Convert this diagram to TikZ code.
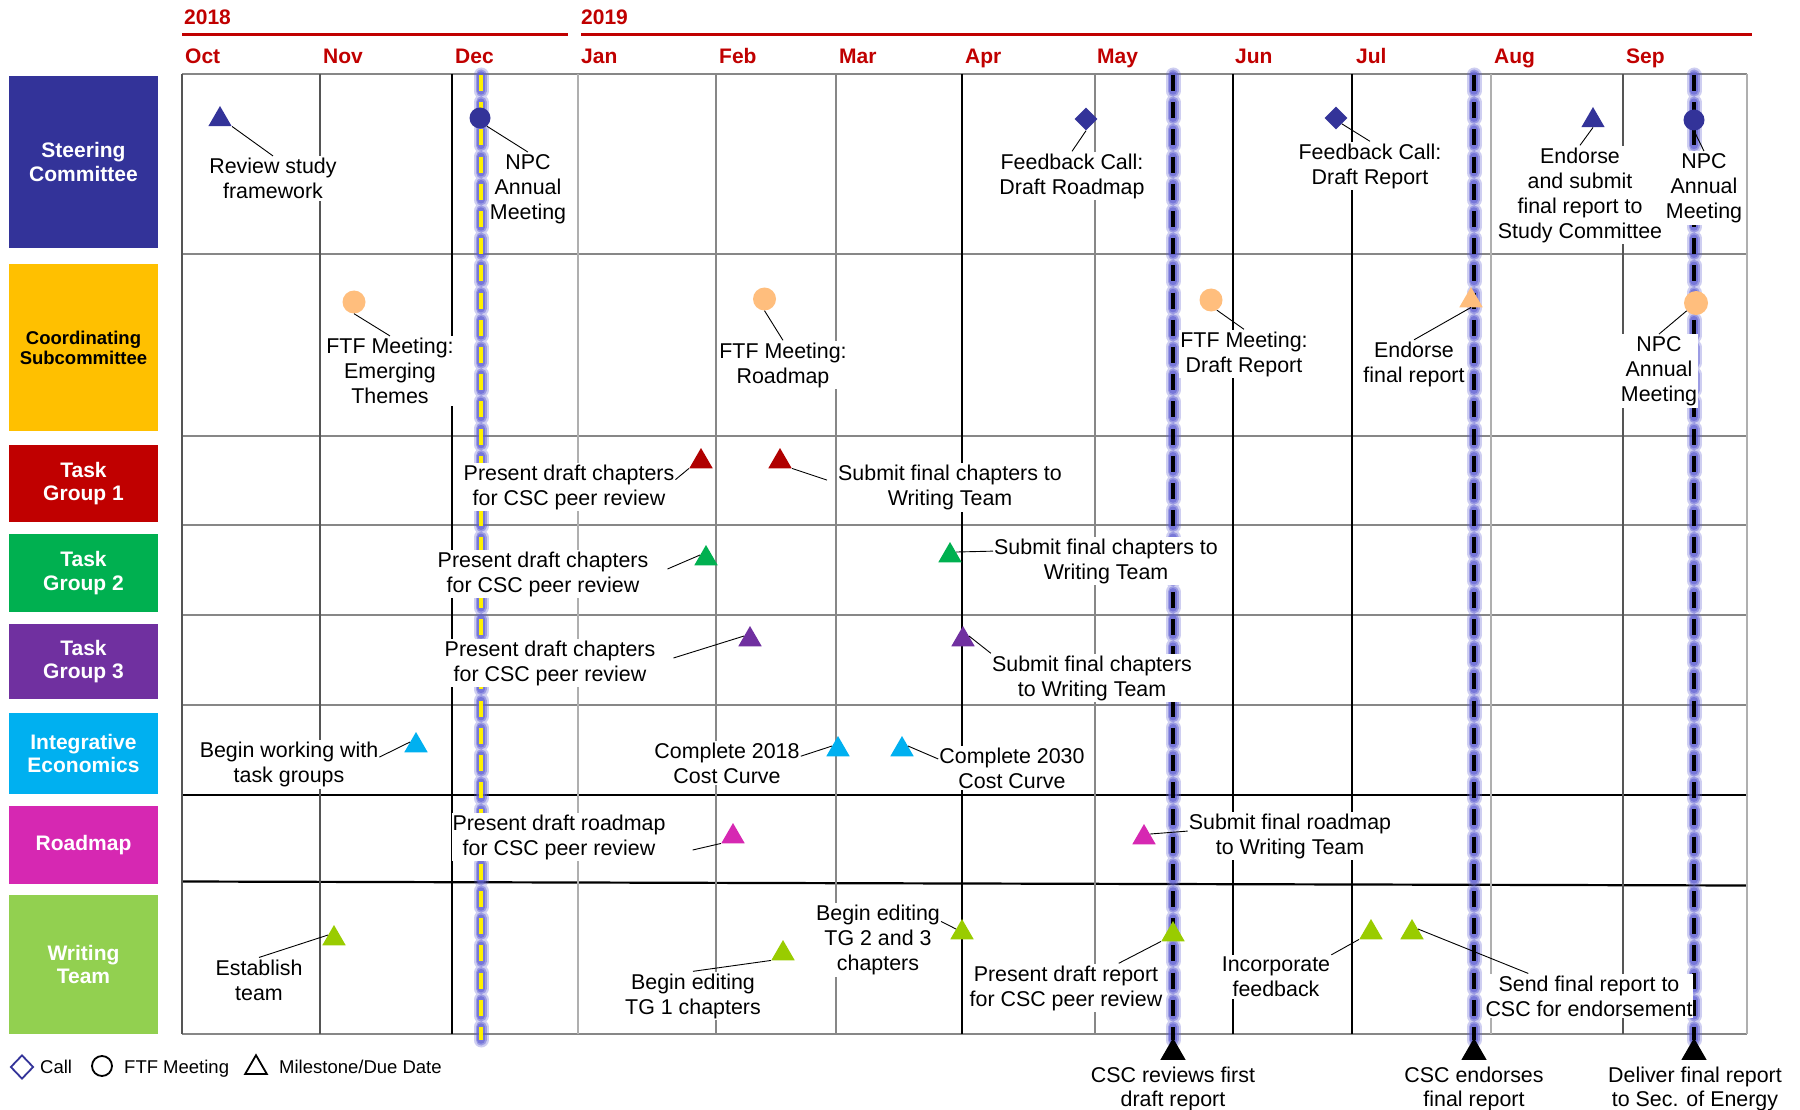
\documentclass[tikz,border=0pt]{standalone}
\usepackage{fontspec}
\setmainfont{Liberation Sans}
\usetikzlibrary{shapes.geometric,calc}

\definecolor{scIndigo}{RGB}{51,51,153}
\definecolor{csAmber}{RGB}{255,192,0}
\definecolor{tgOneRed}{RGB}{192,0,0}
\definecolor{tgOneMark}{RGB}{176,0,0}
\definecolor{tgTwoGreen}{RGB}{0,176,80}
\definecolor{tgThreePurple}{RGB}{112,48,160}
\definecolor{ieCyan}{RGB}{0,176,240}
\definecolor{rmMagenta}{RGB}{214,40,178}
\definecolor{wtGreen}{RGB}{146,208,80}
\definecolor{wtMark}{RGB}{153,204,0}
\definecolor{ftfPeach}{RGB}{255,190,125}
\definecolor{hdrRed}{RGB}{192,0,0}
\definecolor{glowBlue}{RGB}{95,95,210}
\definecolor{gridGray}{RGB}{135,135,135}
\definecolor{gridLight}{RGB}{175,175,175}
\definecolor{gridDark}{RGB}{85,85,85}

\begin{document}
\begin{tikzpicture}[x=1pt,y=-1pt,
  catbox/.style={minimum width=149pt, align=center, inner sep=0pt, text=white,
    font=\bfseries\fontsize{21}{23.5}\selectfont},
  hdr/.style={anchor=base west, inner sep=0pt, text=hdrRed,
    font=\bfseries\fontsize{21}{24}\selectfont},
  lab/.style={fill=white, align=center, inner xsep=1pt, inner ysep=2pt,
    font=\fontsize{21.4}{25}\selectfont},
  bot/.style={align=center, inner sep=0pt, font=\fontsize{21.4}{24}\selectfont},
  leader/.style={draw=black, line width=0.9pt},
  tri/.style={regular polygon, regular polygon sides=3, minimum size=27pt, inner sep=0pt},
  ftf/.style={circle, minimum size=23pt, inner sep=0pt},
  call/.style={diamond, minimum width=23pt, minimum height=23pt, inner sep=0pt},
  legtext/.style={anchor=base west, inner sep=0pt, font=\fontsize{18.5}{22}\selectfont},
  hline/.style={line width=2pt, draw=gridGray},
  vline/.style={line width=1.5pt},
  glowwide/.style={draw=glowBlue, line width=15pt, opacity=0.3, line cap=round,
    dash pattern=on 16pt off 11.2pt},
  glowmid/.style={draw=glowBlue, line width=11pt, opacity=0.45, line cap=round,
    dash pattern=on 16pt off 11.2pt},
  glownarrow/.style={draw=glowBlue, line width=7.5pt, opacity=0.6, line cap=round,
    dash pattern=on 16pt off 11.2pt},
  glowcore/.style={line width=4pt, dash pattern=on 16pt off 11.2pt},
]
\useasboundingbox (0,0) rectangle (1800,1110);
\fill[white] (0,0) rectangle (1800,1110);

% ---- year and month header ----
\node[hdr] (y2018) at (184,24.6) {2018};
\node[hdr] (y2019) at (581,24.6) {2019};
\draw[draw=hdrRed, line width=2.5pt] (182,34.5) -- (568,34.5);
\draw[draw=hdrRed, line width=2.5pt] (581,34.5) -- (1752,34.5);
\foreach \mx/\mn in {185/Oct, 323/Nov, 455/Dec, 581/Jan, 719/Feb, 839/Mar,
                     965/Apr, 1097/May, 1235/Jun, 1356/Jul, 1494/Aug, 1626/Sep}
  \node[hdr] at (\mx,63.6) {\mn};

% ---- category boxes ----
\node[catbox, fill=scIndigo, minimum height=172pt] (c1) at (83.5,162) {Steering\\Committee};
\node[catbox, fill=csAmber, minimum height=167pt, text=black,
      font=\bfseries\fontsize{18.5}{20}\selectfont] (c2) at (83.5,347.5) {Coordinating\\Subcommittee};
\node[catbox, fill=tgOneRed, minimum height=77pt] (c3) at (83.5,483.5) {Task\\Group 1};
\node[catbox, fill=tgTwoGreen, minimum height=78pt] (c4) at (83.5,573) {Task\\Group 2};
\node[catbox, fill=tgThreePurple, minimum height=75pt] (c5) at (83.5,661.5) {Task\\Group 3};
\node[catbox, fill=ieCyan, minimum height=81pt] (c6) at (83.5,753.5) {Integrative\\Economics};
\node[catbox, fill=rmMagenta, minimum height=78pt] (c7) at (83.5,845) {Roadmap};
\node[catbox, fill=wtGreen, minimum height=139pt] (c8) at (83.5,964.5) {Writing\\Team};

% ---- grid ----
\foreach \hy in {74,254,436,525,615,705,1034}
  \draw[hline] (182,\hy) -- (1747,\hy);
\draw[line width=2.2pt] (182,795) -- (1747,795);
\draw[line width=2.2pt] (182,881.5) -- (1747,885.5);
\foreach \vx/\vc in {182/gridDark, 320/gridDark, 452/black, 578/gridLight, 716/gridGray,
                     836/gridGray, 962/black, 1095/gridGray, 1233/black, 1352/black,
                     1491/gridLight, 1623/gridDark, 1747/gridLight}
  \draw[vline, draw=\vc] (\vx,74) -- (\vx,1034);

% ---- glowing review lines ----
\foreach \gx/\gc in {481/yellow, 1173/black, 1474/black, 1694/black} {
  \draw[glowwide] (\gx,75) -- (\gx,1040);
  \draw[glowmid] (\gx,75) -- (\gx,1040);
  \draw[glownarrow] (\gx,75) -- (\gx,1040);
  \draw[glowcore, draw=\gc] (\gx,75) -- (\gx,1040);
}

% ---- event labels ----
\node[lab] (l_rsf) at (273,178.5) {Review study\\framework};
\node[lab] (l_npc1) at (528,189) {NPC\\Annual\\Meeting};
\node[lab] (l_fcr) at (1072,176) {Feedback Call:\\Draft Roadmap};
\node[lab] (l_fcd) at (1370,166) {Feedback Call:\\Draft Report};
\node[lab] (l_esc) at (1580,195) {Endorse\\and submit\\final report to\\Study Committee};
\node[lab] (l_npc2) at (1704,188) {NPC\\Annual\\Meeting};

\node[lab] (l_fe) at (390,371) {FTF Meeting:\\Emerging\\Themes};
\node[lab] (l_fr) at (783,365) {FTF Meeting:\\Roadmap};
\node[lab] (l_fd) at (1244,354) {FTF Meeting:\\Draft Report};
\node[lab] (l_efr) at (1414,364.5) {Endorse\\final report};
\node[lab] (l_npc3) at (1659,371) {NPC\\Annual\\Meeting};

\node[lab] (l_t1a) at (569,487) {Present draft chapters\\for CSC peer review};
\node[lab] (l_t1b) at (950,487.5) {Submit final chapters to\\Writing Team};
\node[lab] (l_t2a) at (543,574) {Present draft chapters\\for CSC peer review};
\node[lab] (l_t2b) at (1106,561) {Submit final chapters to\\Writing Team};
\node[lab] (l_t3a) at (550,663) {Present draft chapters\\for CSC peer review};
\node[lab] (l_t3b) at (1092,678) {Submit final chapters\\to Writing Team};

\node[lab] (l_ie1) at (289,764.5) {Begin working with\\task groups};
\node[lab] (l_ie2) at (727,763) {Complete 2018\\Cost Curve};
\node[lab] (l_ie3) at (1012,768) {Complete 2030\\Cost Curve};

\node[lab] (l_rm1) at (559,837) {Present draft roadmap\\for CSC peer review};
\node[lab] (l_rm2) at (1290,836) {Submit final roadmap\\to Writing Team};

\node[lab] (l_w1) at (259,980) {Establish\\team};
\node[lab] (l_w2) at (693,996) {Begin editing\\TG 1 chapters};
\node[lab] (l_w3) at (878,940) {Begin editing\\TG 2 and 3\\chapters};
\node[lab] (l_w4) at (1066,988) {Present draft report\\for CSC peer review};
\node[lab] (l_w5) at (1276,977) {Incorporate\\feedback};
\node[lab] (l_w6) at (1589,996) {Send final report to\\CSC for endorsement};

% ---- event markers ----
\node[tri, fill=scIndigo] (m_rsf) at (220,119.5) {};
\node[ftf, fill=scIndigo, minimum size=21pt] (m_npc1) at (480,118) {};
\node[call, fill=scIndigo] (m_fcr) at (1086,119) {};
\node[call, fill=scIndigo] (m_fcd) at (1336,118) {};
\node[tri, fill=scIndigo] (m_esc) at (1593,120.5) {};
\node[ftf, fill=scIndigo, minimum size=21pt] (m_npc2) at (1694,120) {};

\node[ftf, fill=ftfPeach] (m_fe) at (354,302) {};
\node[ftf, fill=ftfPeach] (m_fr) at (764.5,299) {};
\node[ftf, fill=ftfPeach] (m_fd) at (1211,300) {};
\node[tri, fill=ftfPeach] (m_efr) at (1471,300.5) {};
\node[ftf, fill=ftfPeach, minimum size=24pt] (m_npc3) at (1696,303) {};

\node[tri, fill=tgOneMark] (m_t1a) at (701,461.5) {};
\node[tri, fill=tgOneMark] (m_t1b) at (780,461.5) {};
\node[tri, fill=tgTwoGreen] (m_t2a) at (706,558.5) {};
\node[tri, fill=tgTwoGreen] (m_t2b) at (950,555.5) {};
\node[tri, fill=tgThreePurple] (m_t3a) at (750,639.5) {};
\node[tri, fill=tgThreePurple] (m_t3b) at (963,639.5) {};

\node[tri, fill=ieCyan] (m_ie1) at (416,745.5) {};
\node[tri, fill=ieCyan] (m_ie2) at (838,749.5) {};
\node[tri, fill=ieCyan] (m_ie3) at (902,749.5) {};

\node[tri, fill=rmMagenta] (m_rm1) at (733,836.5) {};
\node[tri, fill=rmMagenta] (m_rm2) at (1144,837.5) {};

\node[tri, fill=wtMark] (m_w1) at (334,938.5) {};
\node[tri, fill=wtMark] (m_w2) at (783,953.5) {};
\node[tri, fill=wtMark] (m_w3) at (962,932.5) {};
\node[tri, fill=wtMark] (m_w4) at (1173,934.5) {};
\node[tri, fill=wtMark] (m_w5) at (1371,932.5) {};
\node[tri, fill=wtMark] (m_w6) at (1412,932.5) {};

% ---- leader lines ----
\draw[leader] (m_rsf.corner 3) -- (l_rsf.north);
\draw[leader] (m_npc1.-50) -- (l_npc1.north);
\draw[leader] (m_fcr.south) -- (l_fcr.north);
\draw[leader] (m_fcd.-45) -- (l_fcd.north);
\draw[leader] (m_esc.south) -- (l_esc.north);
\draw[leader] (m_npc2.south) -- (l_npc2.north);

\draw[leader] (m_fe.south) -- (l_fe.north);
\draw[leader] (m_fr.south) -- (l_fr.north);
\draw[leader] (m_fd.-60) -- (l_fd.north);
\draw[leader] (m_efr.south) -- (l_efr.north);
\draw[leader] (m_npc3.-140) -- (l_npc3.north);

\draw[leader] (m_t1a.corner 2) -- ($(l_t1a.north east)!0.35!(l_t1a.south east)$);
\draw[leader] (m_t1b.corner 3) -- ($(l_t1b.north west)!0.35!(l_t1b.south west)+(-10,0)$);
\draw[leader] (m_t2a.side 1) -- ($(l_t2a.east)+(18,-5)$);
\draw[leader] (m_t2b.side 3) -- ($(l_t2b.north west)!0.3!(l_t2b.south west)$);
\draw[leader] (m_t3a.side 1) -- ($(l_t3a.east)+(17,-5)$);
\draw[leader] (m_t3b.side 3) -- (l_t3b.north west);

\draw[leader] (m_ie1.side 1) -- ($(l_ie1.north east)!0.35!(l_ie1.south east)$);
\draw[leader] (m_ie2.side 1) -- ($(l_ie2.north east)!0.35!(l_ie2.south east)$);
\draw[leader] (m_ie3.side 3) -- ($(l_ie3.north west)!0.3!(l_ie3.south west)$);

\draw[leader] (m_rm1.corner 2) -- ($(l_rm1.east)+(26,13)$);
\draw[leader] (m_rm2.side 3) -- ($(l_rm2.north west)!0.4!(l_rm2.south west)$);

\draw[leader] (m_w1.side 1) -- (l_w1.north);
\draw[leader] (m_w2.corner 2) -- (l_w2.north);
\draw[leader] (m_w3.side 1) -- ($(l_w3.north east)!0.25!(l_w3.south east)$);
\draw[leader] (m_w4.corner 2) -- ($(l_w4.north west)!0.77!(l_w4.north east)$);
\draw[leader] (m_w5.corner 2) -- (l_w5.north east);
\draw[leader] (m_w6.side 3) -- ($(l_w6.north west)!0.21!(l_w6.north east)$);

% ---- review milestones below the chart ----
\node[tri, fill=black, minimum size=29pt] (b1) at (1173,1052.5) {};
\node[tri, fill=black, minimum size=29pt] (b2) at (1474,1052.5) {};
\node[tri, fill=black, minimum size=29pt] (b3) at (1694,1052.5) {};
\node[bot] (bl1) at (1173,1089) {CSC reviews first\\draft report};
\node[bot] (bl2) at (1474,1089) {CSC endorses\\final report};
\node[bot] (bl3) at (1695,1089) {Deliver final report\\to Sec. of Energy};

% ---- legend ----
\node[call, draw=scIndigo, line width=1.8pt, minimum width=23pt, minimum height=24pt] (k_call) at (22,1067) {};
\node[legtext] (k_call_t) at (40,1073.5) {Call};
\node[ftf, draw=black, line width=1.8pt, minimum size=20pt] (k_ftf) at (102,1066) {};
\node[legtext] (k_ftf_t) at (124,1073.5) {FTF Meeting};
\node[tri, draw=black, line width=1.8pt, minimum size=25pt] (k_ms) at (256,1067.7) {};
\node[legtext] (k_ms_t) at (279,1073.5) {Milestone/Due Date};
\end{tikzpicture}
\end{document}
